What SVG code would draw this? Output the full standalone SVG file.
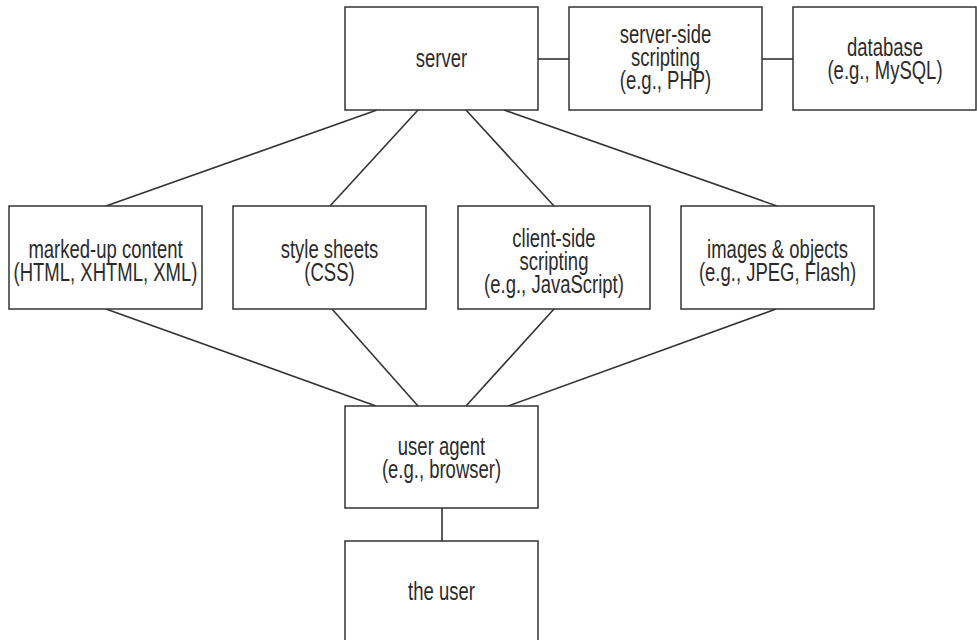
<svg xmlns="http://www.w3.org/2000/svg" width="977" height="640" viewBox="0 0 977 640">
<style>
.box{fill:#fff;stroke:#333;stroke-width:1.5}
.edge{fill:none;stroke:#333;stroke-width:1.6}
.lbl{font-family:"Liberation Sans",Arial,sans-serif;font-size:25px;fill:#2b2b2b;text-anchor:middle}
</style>
<rect width="977" height="640" fill="#fff"/>
<g id="connectors">
<line class="edge" x1="538" y1="59" x2="569" y2="59"/>
<line class="edge" x1="762" y1="59" x2="793" y2="59"/>
<line class="edge" x1="377" y1="110" x2="106" y2="206"/>
<line class="edge" x1="418" y1="110" x2="330" y2="206"/>
<line class="edge" x1="466" y1="110" x2="554" y2="206"/>
<line class="edge" x1="504" y1="110" x2="777" y2="206"/>
<line class="edge" x1="106" y1="309" x2="376" y2="406"/>
<line class="edge" x1="332" y1="309" x2="418" y2="406"/>
<line class="edge" x1="554" y1="309" x2="466" y2="406"/>
<line class="edge" x1="776" y1="309" x2="508" y2="406"/>
<line class="edge" x1="442" y1="508" x2="442" y2="541"/>
</g>
<g id="server">
<rect class="box" x="345" y="7" width="193" height="103"/>
<text class="lbl" transform="translate(441.5 0) scale(0.74 1)"><tspan x="0" y="67.5">server</tspan></text>
</g>
<g id="server-side">
<rect class="box" x="569" y="7" width="193" height="103"/>
<text class="lbl" transform="translate(665.5 0) scale(0.74 1)"><tspan x="0" y="43.5">server-side</tspan><tspan x="0" y="66.5">scripting</tspan><tspan x="0" y="89.5">(e.g., PHP)</tspan></text>
</g>
<g id="database">
<rect class="box" x="793" y="7" width="183" height="103"/>
<text class="lbl" transform="translate(885 0) scale(0.74 1)"><tspan x="0" y="56">database</tspan><tspan x="0" y="79">(e.g., MySQL)</tspan></text>
</g>
<g id="markup">
<rect class="box" x="9" y="206" width="193" height="103"/>
<text class="lbl" transform="translate(105.5 0) scale(0.74 1)"><tspan x="0" y="258.5">marked-up content</tspan><tspan x="0" y="281.5">(HTML, XHTML, XML)</tspan></text>
</g>
<g id="styles">
<rect class="box" x="233" y="206" width="193" height="103"/>
<text class="lbl" transform="translate(329.5 0) scale(0.74 1)"><tspan x="0" y="258.5">style sheets</tspan><tspan x="0" y="281.5">(CSS)</tspan></text>
</g>
<g id="client-side">
<rect class="box" x="458" y="206" width="192" height="103"/>
<text class="lbl" transform="translate(554 0) scale(0.74 1)"><tspan x="0" y="247">client-side</tspan><tspan x="0" y="270">scripting</tspan><tspan x="0" y="293">(e.g., JavaScript)</tspan></text>
</g>
<g id="images">
<rect class="box" x="681" y="206" width="193" height="103"/>
<text class="lbl" transform="translate(777.5 0) scale(0.74 1)"><tspan x="0" y="258.5">images &amp; objects</tspan><tspan x="0" y="281.5">(e.g., JPEG, Flash)</tspan></text>
</g>
<g id="user-agent">
<rect class="box" x="345" y="406" width="193" height="102"/>
<text class="lbl" transform="translate(441.5 0) scale(0.74 1)"><tspan x="0" y="455.5">user agent</tspan><tspan x="0" y="478.5">(e.g., browser)</tspan></text>
</g>
<g id="user">
<rect class="box" x="345" y="541" width="193" height="110"/>
<text class="lbl" transform="translate(441.5 0) scale(0.74 1)"><tspan x="0" y="600">the user</tspan></text>
</g>
</svg>
